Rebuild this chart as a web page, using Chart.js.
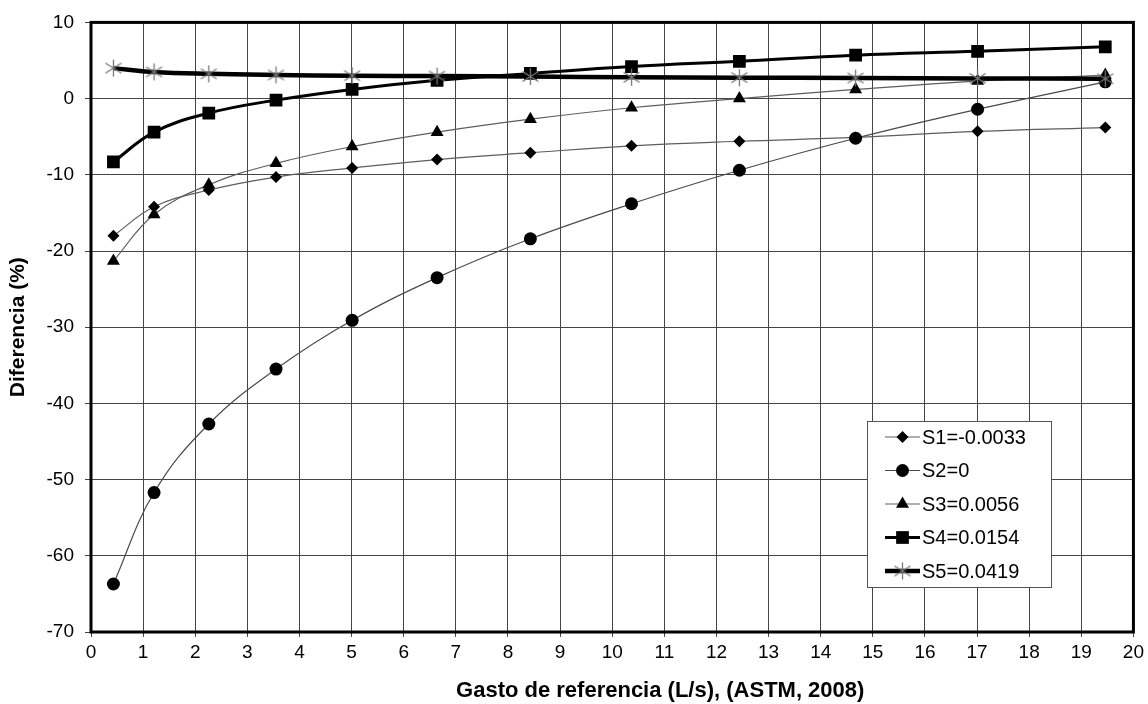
<!DOCTYPE html>
<html><head><meta charset="utf-8">
<script src="https://cdn.jsdelivr.net/npm/chart.js@4.4.1/dist/chart.umd.min.js"></script>
<style>html,body{margin:0;padding:0;background:#fff}canvas{display:block}</style>
</head><body>
<canvas id="c" width="1148" height="704"></canvas>
<script>
// ---- data ----
const xValues  = [0.43, 1.21, 2.26, 3.55, 5.01, 6.64, 8.43, 10.37, 12.44, 14.67, 17.01, 19.46];
const s1Values = [-18.0, -14.2, -12.0, -10.3, -9.1, -8.0, -7.1, -6.2, -5.6, -5.1, -4.3, -3.8];
const s2Values = [-63.7, -51.7, -42.7, -35.5, -29.1, -23.5, -18.4, -13.8, -9.4, -5.2, -1.4, 2.2];
const s3Values = [-21.3, -15.2, -11.3, -8.5, -6.3, -4.4, -2.7, -1.2, 0.0, 1.2, 2.3, 3.1];
const s4Values = [-8.3, -4.4, -1.9, -0.2, 1.2, 2.4, 3.3, 4.2, 4.9, 5.7, 6.2, 6.8];
const s5Values = [4.0, 3.5, 3.25, 3.1, 3.0, 2.95, 2.9, 2.8, 2.75, 2.7, 2.65, 2.6];
const seriesLabels = ['S1=-0.0033', 'S2=0', 'S3=0.0056', 'S4=0.0154', 'S5=0.0419'];
const xTitle = 'Gasto de referencia (L/s), (ASTM, 2008)';
const yTitle = 'Diferencia (%)';
const xMin = 0, xMax = 20, xStep = 1;
const yMin = -70, yMax = 10, yStep = 10;

Chart.defaults.font.family = "'Liberation Sans', Arial, sans-serif";
Chart.defaults.color = '#000';

function makeAsterisk() {
  const c = document.createElement('canvas');
  c.width = 19; c.height = 19;
  const g = c.getContext('2d');
  g.strokeStyle = '#777'; g.lineWidth = 1.3;
  g.beginPath();
  g.moveTo(9.5, 1); g.lineTo(9.5, 18);
  g.moveTo(1.5, 4.5); g.lineTo(17.5, 14.5);
  g.moveTo(1.5, 14.5); g.lineTo(17.5, 4.5);
  g.stroke();
  return c;
}
const asterisk = makeAsterisk();

function pts(ys) { return xValues.map((x, i) => ({ x: x, y: ys[i] })); }

const common = { pointBackgroundColor: '#000', pointBorderColor: '#000', pointBorderWidth: 0, tension: 0.4, fill: false };
const datasets = [
  Object.assign({ label: seriesLabels[0], data: pts(s1Values), borderColor: '#5e5e5e', borderWidth: 1.2, pointStyle: 'rectRot', pointRadius: 6, order: 5 }, common),
  Object.assign({ label: seriesLabels[1], data: pts(s2Values), borderColor: '#4a4a4a', borderWidth: 1.2, pointStyle: 'circle', pointRadius: 6.5, order: 4 }, common),
  Object.assign({ label: seriesLabels[2], data: pts(s3Values), borderColor: '#5e5e5e', borderWidth: 1.2, pointStyle: 'triangle', pointRadius: 7.5, order: 3 }, common),
  Object.assign({ label: seriesLabels[3], data: pts(s4Values), borderColor: '#000', borderWidth: 3, pointStyle: 'rect', pointRadius: 9, order: 2 }, common),
  Object.assign({ label: seriesLabels[4], data: pts(s5Values), borderColor: '#000', borderWidth: 4.5, pointStyle: asterisk, pointRadius: 9, order: 1 }, common)
];

const framePlugin = {
  id: 'frame',
  beforeDatasetsDraw(chart) {
    const a = chart.chartArea, ctx = chart.ctx;
    ctx.save();
    ctx.strokeStyle = '#000'; ctx.lineWidth = 3;
    ctx.strokeRect(a.left, a.top, a.right - a.left, a.bottom - a.top);
    ctx.restore();
  }
};

const xTitlePlugin = {
  id: 'xTitle',
  afterDraw(chart) {
    const ctx = chart.ctx, a = chart.chartArea;
    ctx.save();
    ctx.font = "bold 22px 'Liberation Sans', Arial, sans-serif";
    ctx.fillStyle = '#000'; ctx.textAlign = 'center'; ctx.textBaseline = 'alphabetic';
    ctx.fillText(xTitle, (a.left + a.right) / 2 + 48, 697);
    ctx.restore();
  }
};

const legendPlugin = {
  id: 'boxLegend',
  afterDraw(chart) {
    const ctx = chart.ctx;
    ctx.save();
    ctx.fillStyle = '#fff';
    ctx.fillRect(867, 421, 185, 166);
    ctx.strokeStyle = '#555'; ctx.lineWidth = 1;
    ctx.strokeRect(867.5, 421.5, 184, 166);
    chart.data.datasets.forEach((ds, i) => {
      const y = 437 + i * 33.5;
      ctx.strokeStyle = ds.borderColor; ctx.lineWidth = ds.borderWidth;
      ctx.beginPath(); ctx.moveTo(885, y); ctx.lineTo(920, y); ctx.stroke();
      ctx.fillStyle = '#000'; ctx.strokeStyle = '#000';
      Chart.helpers.drawPoint(ctx, { pointStyle: ds.pointStyle, radius: ds.pointRadius, rotation: 0, borderWidth: 0 }, 902.5, y);
      ctx.fillStyle = '#000';
      ctx.font = "20px 'Liberation Sans', Arial, sans-serif";
      ctx.textAlign = 'left'; ctx.textBaseline = 'middle';
      ctx.fillText(ds.label, 922, y + 1);
    });
    ctx.restore();
  }
};

new Chart(document.getElementById('c'), {
  type: 'line',
  data: { datasets: datasets },
  options: {
    responsive: false,
    animation: false,
    events: [],
    layout: { padding: { top: 20, left: 0, right: 14, bottom: 0 } },
    plugins: { legend: { display: false }, tooltip: { enabled: false }, title: { display: false } },
    scales: {
      x: {
        type: 'linear', min: xMin, max: xMax,
        ticks: { stepSize: xStep, font: { size: 19 }, color: '#000', padding: 4, maxRotation: 0, autoSkip: false },
        grid: { color: '#444', lineWidth: 1, tickLength: 5, drawTicks: true },
        border: { display: false },
        afterFit(s) { s.height = 72; }
      },
      y: {
        type: 'linear', min: yMin, max: yMax,
        ticks: { stepSize: yStep, font: { size: 19 }, color: '#000', padding: 11 },
        grid: { color: '#444', lineWidth: 1, tickLength: 6, drawTicks: true },
        border: { display: false },
        title: { display: true, text: yTitle, color: '#000', font: { size: 21, weight: 'bold' }, padding: { top: 6, bottom: 0 } },
        afterFit(s) { s.width = 91; }
      }
    }
  },
  plugins: [framePlugin, xTitlePlugin, legendPlugin]
});
</script>
</body></html>
